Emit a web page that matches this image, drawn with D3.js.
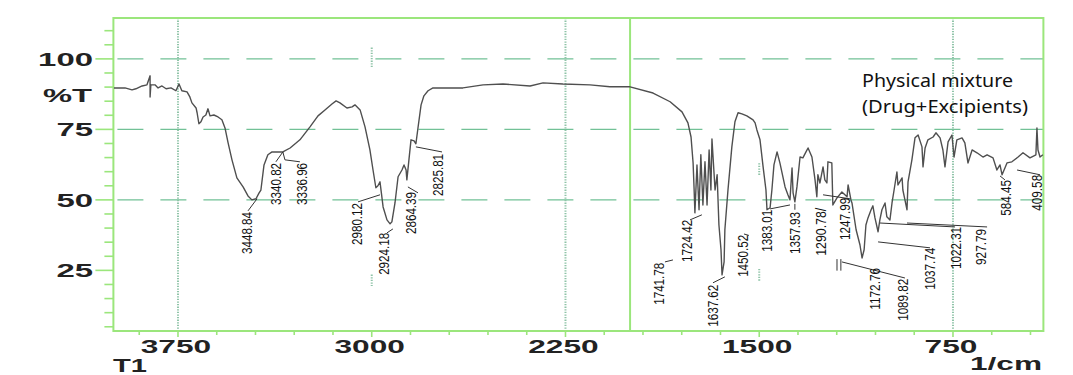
<!DOCTYPE html>
<meta charset='utf-8'>
<head>
    <title>FTIR - Physical mixture</title>
    <script src='https://cdn.jsdelivr.net/npm/d3@7/dist/d3.min.js'></script>
</head>

<style>
    body { margin: 0; background: white; }
    .frame { fill: none; stroke: #9be67c; stroke-width: 2px; }
    .tick { stroke: #9be67c; stroke-width: 1.6px; }
    .grid-h { stroke: #72c196; stroke-width: 1.2px; stroke-dasharray: 26 17; }
    .grid-v { stroke: #8fc4a8; stroke-width: 2px; stroke-dasharray: 1.3 1.3; }
    .spectrum { fill: none; stroke: #4f4f4f; stroke-width: 1.4px; stroke-linejoin: round; }
    .leader { fill: none; stroke: #333; stroke-width: 1px; }
    .axis-text { font-family: 'Liberation Sans', Arial, sans-serif; font-weight: bold; font-size: 19px; fill: #222; }
    .peak-text { font-family: 'Liberation Sans', Arial, sans-serif; font-size: 15.5px; fill: #111; }
    .note { font-family: 'Noto Sans', 'Open Sans', sans-serif; font-size: 18px; fill: #111; }
</style>

<svg>
    <g></g>
</svg>

<script>
    var vWidth = 1073;
    var vHeight = 375;

    // spectrum (wavenumber 1/cm, %T)
    var specWn = [
        3998, 3955, 3928, 3913, 3889, 3870, 3858, 3858, 3855, 3839,
        3827, 3812, 3796, 3777, 3758, 3746, 3735, 3715, 3704, 3696,
        3680, 3676, 3669, 3661, 3653, 3642, 3634, 3626, 3611, 3595,
        3580, 3568, 3556, 3541, 3522, 3498, 3479, 3464, 3448, 3436,
        3429, 3417, 3402, 3386, 3363, 3344, 3316, 3278, 3239, 3208,
        3181, 3154, 3138, 3123, 3096, 3076, 3065, 3045, 3026, 3007,
        2995, 2984, 2976, 2968, 2956, 2941, 2929, 2922, 2910, 2898,
        2883, 2875, 2867, 2864, 2856, 2848, 2836, 2829, 2821, 2809,
        2798, 2782, 2763, 2647, 2569, 2492, 2387, 2337, 2260, 2155,
        2078, 2000, 1911, 1845, 1799, 1776, 1764, 1756, 1752, 1749,
        1741, 1733, 1726, 1718, 1710, 1702, 1694, 1687, 1683, 1671,
        1663, 1656, 1648, 1644, 1636, 1633, 1621, 1606, 1594, 1582,
        1567, 1548, 1536, 1524, 1516, 1509, 1497, 1485, 1474, 1470,
        1458, 1451, 1443, 1431, 1420, 1400, 1389, 1381, 1373, 1369,
        1362, 1354, 1342, 1331, 1319, 1311, 1296, 1284, 1277, 1273,
        1265, 1253, 1246, 1238, 1234, 1219, 1215, 1199, 1180, 1160,
        1156, 1145, 1141, 1125, 1110, 1102, 1094, 1087, 1079, 1067,
        1060, 1052, 1040, 1033, 1025, 1013, 1006, 994, 986, 978,
        967, 963, 947, 944, 936, 928, 924, 909, 897, 885,
        870, 866, 858, 847, 827, 816, 800, 789, 781, 769,
        754, 746, 735, 715, 704, 692, 676, 657, 634, 618,
        595, 580, 568, 560, 549, 541, 522, 498, 479, 452,
        429, 425, 421, 413, 402
    ];
    var specT = [
        89.7, 89.7, 89.0, 89.4, 90.4, 90.8, 94.0, 86.5, 90.8, 90.8,
        89.7, 90.4, 89.4, 89.7, 88.7, 91.1, 88.7, 88.3, 86.5, 84.4,
        82.6, 80.9, 77.0, 77.7, 79.4, 80.1, 82.3, 79.8, 80.1, 79.4,
        78.4, 75.5, 70.2, 64.2, 57.8, 54.6, 51.4, 50.0, 50.4, 52.5,
        53.5, 62.4, 66.0, 67.0, 67.0, 67.0, 68.4, 71.3, 75.9, 79.8,
        81.9, 84.0, 85.1, 84.4, 82.6, 83.0, 83.7, 81.9, 75.9, 67.7,
        60.6, 54.3, 55.0, 56.4, 47.5, 42.9, 41.5, 42.2, 48.9, 58.2,
        60.6, 62.4, 60.6, 57.1, 64.2, 71.3, 70.9, 69.9, 75.5, 83.7,
        86.9, 88.7, 89.7, 89.7, 90.8, 91.1, 90.4, 91.5, 91.1, 90.8,
        90.1, 90.1, 87.9, 84.8, 81.2, 77.3, 72.3, 63.1, 53.5, 45.4,
        62.4, 46.5, 66.0, 48.2, 63.5, 48.2, 67.7, 53.5, 71.6, 53.5,
        58.9, 41.1, 32.3, 23.4, 28.0, 39.4, 53.5, 68.8, 77.7, 80.9,
        80.5, 79.8, 79.1, 78.4, 77.3, 74.8, 71.3, 61.7, 53.5, 46.5,
        47.2, 53.5, 62.4, 67.0, 63.1, 54.6, 51.8, 50.0, 61.3, 52.5,
        49.3, 54.6, 65.2, 64.9, 67.0, 68.4, 65.2, 57.1, 51.1, 58.9,
        56.0, 61.7, 57.1, 56.0, 63.5, 63.1, 48.2, 50.7, 52.8, 51.1,
        55.3, 50.0, 48.9, 39.4, 34.0, 29.4, 32.3, 41.1, 43.6, 46.5,
        47.9, 43.6, 38.7, 42.9, 46.5, 48.9, 44.0, 42.9, 48.9, 53.5,
        59.9, 55.3, 57.8, 53.5, 50.0, 46.5, 56.4, 64.2, 72.0, 73.0,
        68.8, 61.7, 68.4, 71.3, 72.3, 73.8, 72.0, 67.7, 61.7, 70.6,
        73.0, 65.2, 71.3, 72.0, 70.2, 63.1, 67.7, 66.7, 65.2, 66.0,
        64.9, 60.6, 62.4, 58.9, 61.3, 63.1, 63.5, 65.2, 66.7, 64.9,
        66.0, 75.5, 67.7, 65.2, 66.0
    ];

    // peak labels: text, where the label top sits (wn, %T), leader line points
    var peakNames = ['3448.84', '3340.82', '3336.96', '2980.12', '2924.18', '2864.39', '2825.81',
        '1741.78', '1724.42', '1637.62', '1450.52', '1383.01', '1357.93', '1290.78/', '1247.99',
        '1172.76', '1089.82', '1037.74', '1022.31', '927.79', '584.45', '409.58'];
    var peakWn = [3487, 3374, 3274, 3061, 2953, 2852, 2747,
        1892, 1783, 1683, 1567, 1474, 1365, 1265, 1172,
        1056, 947, 843, 742, 645, 549, 429];
    var peakT = [45.7, 63.1, 63.1, 48.9, 38.3, 52.8, 66.3,
        27.7, 42.9, 19.9, 37.6, 46.5, 45.7, 47.2, 50.7,
        25.9, 22.0, 33.0, 40.4, 39.7, 57.1, 58.9];
    var leaders = [
        [[3444, 50.4], [3479, 46.1]],
        [[3344, 67.0], [3371, 63.5]],
        [[3344, 67.0], [3336, 64.2], [3278, 63.5]],
        [[2968, 51.8], [3053, 49.3]],
        [[2918, 39.7], [2941, 38.3]],
        [[2860, 54.6], [2821, 52.5]],
        [[2829, 68.8], [2728, 67.0]],
        [[1865, 28.0], [1834, 28.7]],
        [[1768, 42.9], [1722, 44.7]],
        [[1679, 20.6], [1633, 22.7]],
        [[1559, 37.9], [1540, 37.4]],
        [[1458, 46.8], [1381, 48.2]],
        [[1362, 46.5], [1362, 48.6]],
        [[1253, 51.8], [1149, 50.4]],
        [[1180, 28.0], [936, 22.3]],
        [[1040, 35.1], [839, 33.0]],
        [[1033, 41.8], [742, 40.4]],
        [[928, 41.8], [618, 40.4]],
        [[568, 58.5], [549, 57.1]],
        [[502, 60.6], [413, 58.9]],
        [[1199, 29.0], [1199, 24.9]],
        [[1184, 29.0], [1184, 24.9]]
    ];

    var yTickLabels = [100, 75, 50, 25];
    var xTickLabels = [3750, 3000, 2250, 1500, 750];
    var gridT = [100, 75, 50];
    var gridWn = [3750, 2250, 750];
    var dividerWn = 2000;
    // faint remains of the 3000 / 1500 grid: [wn, from %T, to %T]
    var gridStubs = [[3000, 104, 97], [3000, 23.5, 19.5], [1500, 63, 58.5], [1500, 25.5, 21]];

    var svg = d3.select('svg').attr('width', vWidth).attr('height', vHeight);
    var g = svg.select('g');

    var x = d3.scaleLinear().domain([4000, 400]).range([113.4, 1043.4]);
    var y = d3.scaleLinear().domain([3.5, 114.5]).range([331, 18]);
    var x0 = x.range()[0], x1 = x.range()[1], y0 = y.range()[0], y1 = y.range()[1];

    svg.append('defs').append('clipPath').attr('id', 'plot')
        .append('rect').attr('x', x0).attr('y', y1).attr('width', x1 - x0).attr('height', y0 - y1);

    // grid
    g.selectAll('.grid-h').data(gridT).enter().append('line').attr('class', 'grid-h')
        .attr('x1', x0 + 4).attr('x2', x1).attr('y1', y).attr('y2', y);
    g.selectAll('.grid-v').data(gridWn).enter().append('line').attr('class', 'grid-v')
        .attr('x1', x).attr('x2', x).attr('y1', y1).attr('y2', y0);
    g.selectAll('.stub').data(gridStubs).enter().append('line').attr('class', 'grid-v')
        .attr('x1', function(d) { return x(d[0]); }).attr('x2', function(d) { return x(d[0]); })
        .attr('y1', function(d) { return y(d[1]); }).attr('y2', function(d) { return y(d[2]); });

    g.append('line').attr('class', 'frame')
        .attr('x1', x(dividerWn)).attr('x2', x(dividerWn)).attr('y1', y1).attr('y2', y0);

    // frame + ticks
    g.append('rect').attr('class', 'frame')
        .attr('x', x0).attr('y', y1).attr('width', x1 - x0).attr('height', y0 - y1);

    g.selectAll('.ytick').data(d3.range(5, 111, 5)).enter().append('line').attr('class', 'tick')
        .attr('x1', function(d) { return x0 - (d % 25 === 0 ? 18 : 9); }).attr('x2', x0)
        .attr('y1', y).attr('y2', y);
    g.selectAll('.xtick').data(d3.range(3900, 401, -150)).enter().append('line').attr('class', 'tick')
        .attr('x1', x).attr('x2', x).attr('y1', y0)
        .attr('y2', function(d) { return y0 + (d % 750 === 0 ? 6 : 4); });

    // axis texts (stretched like the instrument font)
    g.selectAll('.ylab').data(yTickLabels).enter().append('text').attr('class', 'axis-text')
        .attr('x', 93).attr('y', function(d) { return y(d) + 7; }).attr('text-anchor', 'end')
        .attr('textLength', function(d) { return String(d).length * 18.3; })
        .attr('lengthAdjust', 'spacingAndGlyphs').text(function(d) { return d; });
    g.selectAll('.xlab').data(xTickLabels).enter().append('text').attr('class', 'axis-text')
        .attr('x', function(d) { return x(d) - 2; }).attr('y', 353).attr('text-anchor', 'middle')
        .attr('textLength', function(d) { return String(d).length * 17.6; })
        .attr('lengthAdjust', 'spacingAndGlyphs').text(function(d) { return d; });
    g.append('text').attr('class', 'axis-text').attr('x', 43).attr('y', 102)
        .attr('textLength', 49).attr('lengthAdjust', 'spacingAndGlyphs').text('%T');
    g.append('text').attr('class', 'axis-text').attr('x', 113).attr('y', 372)
        .attr('textLength', 34).attr('lengthAdjust', 'spacingAndGlyphs').text('T1');
    g.append('text').attr('class', 'axis-text').attr('x', 970).attr('y', 370)
        .attr('textLength', 72).attr('lengthAdjust', 'spacingAndGlyphs').text('1/cm');

    // spectrum
    var vLine = d3.line()
        .x(function(d) { return x(d[0]); })
        .y(function(d) { return y(d[1]); });
    g.append('path').attr('class', 'spectrum').attr('clip-path', 'url(#plot)')
        .attr('d', vLine(d3.zip(specWn, specT)));

    // peak labels
    var pl = g.append('g').attr('clip-path', 'url(#plot)');
    pl.selectAll('path').data(leaders).enter().append('path').attr('class', 'leader').attr('d', vLine);
    pl.selectAll('text').data(peakNames).enter().append('text').attr('class', 'peak-text')
        .attr('transform', function(d, i) { return 'translate(' + x(peakWn[i]) + ',' + y(peakT[i]) + ') rotate(-90)'; })
        .attr('dy', '0.36em').attr('text-anchor', 'end')
        .attr('textLength', function(d) { return d.length * 6; })
        .attr('lengthAdjust', 'spacingAndGlyphs').text(function(d) { return d; });

    // sample note
    g.append('text').attr('class', 'note').attr('x', 862).attr('y', 87)
        .attr('textLength', 151).attr('lengthAdjust', 'spacingAndGlyphs').text('Physical mixture');
    g.append('text').attr('class', 'note').attr('x', 862).attr('y', 113)
        .attr('textLength', 166).attr('lengthAdjust', 'spacingAndGlyphs').text('(Drug+Excipients)');
</script>
